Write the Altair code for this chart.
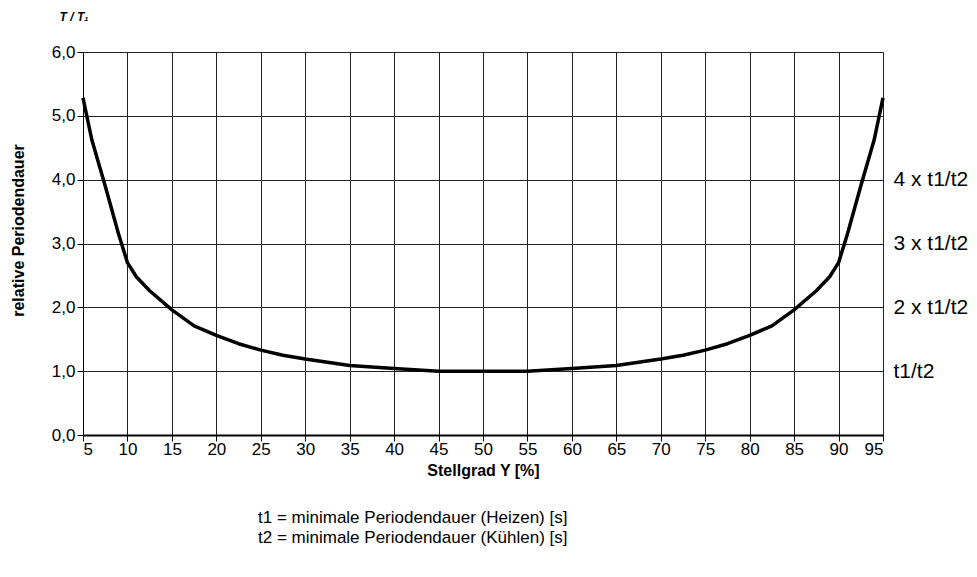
import altair as alt
import pandas as pd

# Stellgrad Y [%] and relative period duration T/T1
stellgrad = [5, 6, 7.5, 9, 10, 11, 12.5, 15, 17.5, 20, 22.5, 25, 27.5, 30, 35, 40, 45, 50,
             55, 60, 65, 70, 72.5, 75, 77.5, 80, 82.5, 85, 87.5, 89, 90, 91, 92.5, 94, 95]
rel_dauer = [5.28, 4.62, 3.90, 3.15, 2.70, 2.48, 2.26, 1.96, 1.71, 1.56, 1.43, 1.33, 1.25, 1.19, 1.09, 1.04, 1.00, 1.00,
             1.00, 1.04, 1.09, 1.19, 1.25, 1.33, 1.43, 1.56, 1.71, 1.96, 2.26, 2.48, 2.70, 3.15, 3.90, 4.62, 5.28]

x_ticks = list(range(5, 100, 5))
y_ticks = [0, 1, 2, 3, 4, 5, 6]
right_values = [1, 2, 3, 4]
right_labels = ["t1/t2", "2 x t1/t2", "3 x t1/t2", "4 x t1/t2"]
top_label = "T / T\u2081"
footnotes = "t1 = minimale Periodendauer (Heizen) [s]\nt2 = minimale Periodendauer (Kühlen) [s]"

df = pd.DataFrame({"Y": stellgrad, "T": rel_dauer})

FONT = "Liberation Sans"
W, H = 800, 383

xscale = alt.Scale(domain=[5, 95], nice=False, zero=False)
yscale = alt.Scale(domain=[0, 6], nice=False)

label_map = "{" + ",".join(f"'{v}':'{l}'" for v, l in zip(right_values, right_labels)) + "}"

base = alt.Chart(df)

curve = base.mark_line(color="black", strokeWidth=3.5, strokeJoin="round").encode(
    x=alt.X("Y:Q", scale=xscale,
            axis=alt.Axis(values=x_ticks, title="Stellgrad Y [%]", grid=True, gridColor="#222222",
                          gridWidth=1, gridOpacity=1, tickSize=6, tickColor="black", domainColor="black",
                          domainWidth=2, labelFontSize=17, labelFont=FONT, labelColor="black",
                          labelPadding=0, titleFont=FONT, titleFontSize=16, titleFontWeight="bold",
                          titleColor="black", titleY=35, titleBaseline="middle")),
    y=alt.Y("T:Q", scale=yscale,
            axis=alt.Axis(values=y_ticks, format=".1f", labelExpr="replace(datum.label, '.', ',')",
                          title="relative Periodendauer", grid=True, gridColor="#222222", gridWidth=1,
                          gridOpacity=1, tickSize=6, tickColor="black", domainColor="black", domainWidth=1,
                          labelFontSize=17, labelFont=FONT, labelColor="black", labelPadding=2,
                          titleFont=FONT, titleFontSize=16, titleFontWeight="bold", titleColor="black",
                          titleAngle=-90, titleX=-65, titleY=178, titleAlign="center",
                          titleBaseline="middle")),
)

right = base.mark_line(strokeOpacity=0).encode(
    x=alt.X("Y:Q", scale=xscale),
    y=alt.Y("T:Q", scale=yscale,
            axis=alt.Axis(orient="right", values=right_values, labelExpr=label_map + "[datum.value]",
                          title=None, grid=False, ticks=False, domain=False, labelFontSize=21,
                          labelFont=FONT, labelColor="black", labelPadding=10)),
)

top_text = alt.Chart(pd.DataFrame({"t": [top_label]})).mark_text(
    font=FONT, fontSize=12, fontWeight="bold", fontStyle="italic", color="black",
    align="center", baseline="middle"
).encode(text="t:N", x=alt.value(-9), y=alt.value(-35))

foot_text = alt.Chart(pd.DataFrame({"t": [footnotes]})).mark_text(
    font=FONT, fontSize=17, color="black", align="left", baseline="middle",
    lineBreak="\n", lineHeight=20
).encode(text="t:N", x=alt.value(175), y=alt.value(466))

chart = alt.layer(curve, right, top_text, foot_text).resolve_axis(y="independent").properties(
    width=W, height=H,
    autosize=alt.AutoSizeParams(type="none"),
    padding={"left": 75, "top": 44, "right": 86, "bottom": 130},
).configure_view(stroke="black", strokeWidth=2).configure(background="white")

chart.save("out.html", embed_options={"renderer": "svg", "actions": False})
